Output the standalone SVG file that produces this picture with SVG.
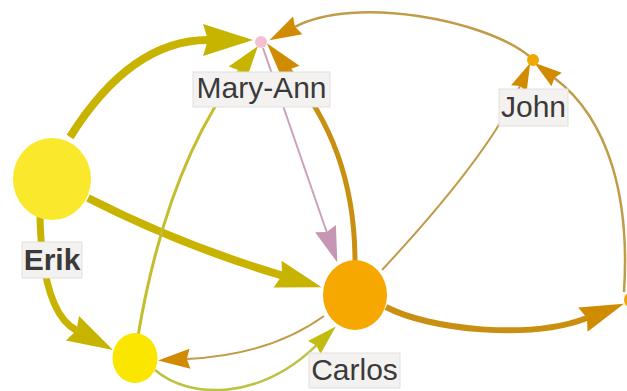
<svg xmlns="http://www.w3.org/2000/svg" width="627" height="391" viewBox="0 0 627 391">
  <style>
    .edge { fill: none; stroke-linecap: butt; }
    .olive { stroke: #c8b400; }
    .lime { stroke: #c4bd2e; }
    .lime2 { stroke: #bbc244; }
    .ochre { stroke: #c98f10; }
    .ochre-thin { stroke: #c09c48; }
    .mauve { stroke: #c9a2bd; }
    .label-box { fill: #f4f2f0; stroke: #e2e0de; stroke-width: 1; }
    .label { font-family: "Liberation Sans", Arial, sans-serif; font-size: 30px; fill: #3a3a3a; text-anchor: middle; }
    .bold { font-weight: bold; }
  </style>
  <defs>
    <!-- tapered arrowheads: notch sits on the path end, tip extends forward -->
    <marker id="arrOliveXL" markerUnits="userSpaceOnUse" orient="auto" overflow="visible" refX="5" refY="0" markerWidth="50" markerHeight="32">
      <path d="M0,-16 L50,0 L0,16 L5,0 Z" fill="#c6b400"/>
    </marker>
    <marker id="arrOliveL" markerUnits="userSpaceOnUse" orient="auto" overflow="visible" refX="4.6" refY="0" markerWidth="46" markerHeight="28">
      <path d="M0,-14 L46,0 L0,14 L4.6,0 Z" fill="#c6b400"/>
    </marker>
    <marker id="arrOliveS" markerUnits="userSpaceOnUse" orient="auto" overflow="visible" refX="3.4" refY="0" markerWidth="34" markerHeight="22">
      <path d="M0,-11 L34,0 L0,11 L3.4,0 Z" fill="#c6b400"/>
    </marker>
    <marker id="arrOliveXS" markerUnits="userSpaceOnUse" orient="auto" overflow="visible" refX="3" refY="0" markerWidth="30" markerHeight="18">
      <path d="M0,-9 L30,0 L0,9 L3,0 Z" fill="#c2bb10"/>
    </marker>
    <marker id="arrOchreL" markerUnits="userSpaceOnUse" orient="auto" overflow="visible" refX="4.4" refY="0" markerWidth="44" markerHeight="26">
      <path d="M0,-13 L44,0 L0,13 L4.4,0 Z" fill="#cf8c00"/>
    </marker>
    <marker id="arrOchreM" markerUnits="userSpaceOnUse" orient="auto" overflow="visible" refX="3.8" refY="0" markerWidth="38" markerHeight="22">
      <path d="M0,-11 L38,0 L0,11 L3.8,0 Z" fill="#cf8c00"/>
    </marker>
    <marker id="arrOchreS" markerUnits="userSpaceOnUse" orient="auto" overflow="visible" refX="3.2" refY="0" markerWidth="32" markerHeight="20">
      <path d="M0,-10 L32,0 L0,10 L3.2,0 Z" fill="#d08b00"/>
    </marker>
    <marker id="arrOchreXS" markerUnits="userSpaceOnUse" orient="auto" overflow="visible" refX="2.8" refY="0" markerWidth="28" markerHeight="17">
      <path d="M0,-8.5 L28,0 L0,8.5 L2.8,0 Z" fill="#d08b00"/>
    </marker>
    <marker id="arrMauve" markerUnits="userSpaceOnUse" orient="auto" overflow="visible" refX="3.6" refY="0" markerWidth="36" markerHeight="22">
      <path d="M0,-11 L36,0 L0,11 L3.6,0 Z" fill="#c796b5"/>
    </marker>
  </defs>

  <rect width="627" height="391" fill="#ffffff"/>

  <g id="edges">
    <!-- Erik -> Mary-Ann -->
    <path class="edge olive" stroke-width="8" d="M70,137 Q131,40 208,40" marker-end="url(#arrOliveXL)"/>
    <!-- Erik -> Carlos -->
    <path class="edge olive" stroke-width="8" d="M88,198 Q180,245 282,275.5" marker-end="url(#arrOliveL)"/>
    <!-- Erik -> yellow node -->
    <path class="edge olive" stroke-width="7" d="M40,216 Q42,312 76.5,330.4" marker-end="url(#arrOliveL)"/>
    <!-- yellow node -> Mary-Ann -->
    <path class="edge lime" stroke-width="3" d="M138,336 Q166.7,166 239.5,70.4" marker-end="url(#arrOliveS)"/>
    <!-- yellow node -> Carlos -->
    <path class="edge lime2" stroke-width="2.5" d="M155,370 C190,400 260,400 316.4,345.4" marker-end="url(#arrOliveXS)"/>
    <!-- Mary-Ann -> Carlos -->
    <path class="edge mauve" stroke-width="2" d="M263,48 Q292,132 326.7,232" marker-end="url(#arrMauve)"/>
    <!-- Carlos -> Mary-Ann -->
    <path class="edge ochre" stroke-width="5" d="M355,262 C355,180 330,120 288.6,69.7" marker-end="url(#arrOchreM)"/>
    <!-- John -> Mary-Ann -->
    <path class="edge ochre-thin" stroke-width="2.5" d="M529,56 C485,20 355,-5 294.9,26.8" marker-end="url(#arrOchreS)"/>
    <!-- Carlos -> John -->
    <path class="edge ochre-thin" stroke-width="2" d="M382,270 Q490,154 520,86" marker-end="url(#arrOchreXS)"/>
    <!-- right node -> John -->
    <path class="edge ochre-thin" stroke-width="2.5" d="M624,292 C630,200 610,120 554.4,77.9" marker-end="url(#arrOchreXS)"/>
    <!-- Carlos -> right node -->
    <path class="edge ochre" stroke-width="6" d="M386,307 C430,330 530,340 587,318" marker-end="url(#arrOchreL)"/>
    <!-- Carlos -> yellow node -->
    <path class="edge ochre-thin" stroke-width="2" d="M324,316 Q270,355 186.8,359" marker-end="url(#arrOchreS)"/>
  </g>

  <g id="node-right">
    <circle cx="632" cy="300" r="8" fill="#f4a300"/>
  </g>

  <g id="node-yellow">
    <ellipse cx="135" cy="358" rx="22.5" ry="25" fill="#fbe600"/>
  </g>

  <g id="node-erik">
    <ellipse cx="52" cy="179" rx="39" ry="41" fill="#fae82c"/>
    <rect class="label-box" x="22" y="242" width="60" height="36"/>
    <text class="label bold" x="52" y="270">Erik</text>
  </g>

  <g id="node-carlos">
    <ellipse cx="355" cy="295" rx="32" ry="35" fill="#f6a800"/>
    <rect class="label-box" x="309" y="353" width="91" height="35"/>
    <text class="label" x="354.5" y="380">Carlos</text>
  </g>

  <g id="node-mary-ann">
    <circle cx="261" cy="42" r="6" fill="#f5bfd2"/>
    <rect class="label-box" x="193" y="72" width="137" height="35"/>
    <text class="label" x="261.5" y="98">Mary-Ann</text>
  </g>

  <g id="node-john">
    <circle cx="533" cy="60" r="6" fill="#f0a800"/>
    <rect class="label-box" x="499" y="89" width="69" height="37"/>
    <text class="label" x="533.5" y="117">John</text>
  </g>
</svg>
